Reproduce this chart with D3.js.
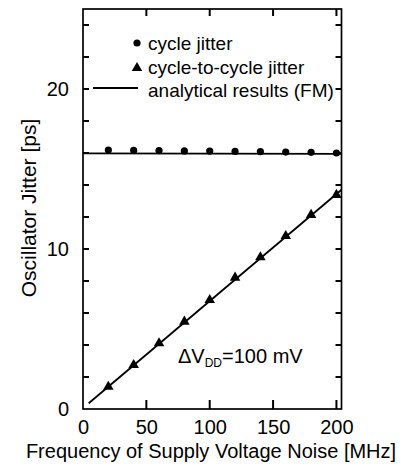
<!DOCTYPE html>
<html><head><meta charset="utf-8">
<script src="https://cdn.jsdelivr.net/npm/d3@7"></script>
<style>
html,body{margin:0;padding:0;background:#fff;}
text{font-family:"Liberation Sans",Arial,Helvetica,sans-serif;fill:#000;}
</style></head>
<body><svg id="c" width="403" height="468"></svg>
<script>
const freqs = [20, 40, 60, 80, 100, 120, 140, 160, 180, 200];
const cycleJitter = [16.18, 16.16, 16.15, 16.13, 16.12, 16.1, 16.08, 16.06, 16.04, 16.0];
const c2cJitter = [1.39, 2.75, 4.11, 5.46, 6.81, 8.21, 9.48, 10.81, 12.13, 13.38];
const fmFlatX = [0, 204];
const fmFlatY = [15.98, 15.94];
const fmLinX = [4.5, 204];
const fmLinY = [0.36, 13.7];
const xTicks = [0, 50, 100, 150, 200];
const yTicks = [0, 2, 4, 6, 8, 10, 12, 14, 16, 18, 20, 22, 24];
const yTickLabels = [0, 10, 20];
const legendLabels = ["cycle jitter", "cycle-to-cycle jitter", "analytical results (FM)"];

const svg = d3.select("#c");
const x = d3.scaleLinear().domain([0, 204]).range([83, 341.5]);
const y = d3.scaleLinear().domain([0, 25]).range([409, 9]);

// frame
svg.append("rect").attr("x", x(0)).attr("y", y(25))
  .attr("width", x(204) - x(0)).attr("height", y(0) - y(25))
  .attr("fill", "none").attr("stroke", "#000").attr("stroke-width", 1.7);

// tick labels via axes
const gB = svg.append("g").attr("transform", `translate(0,${y(0)})`)
  .call(d3.axisBottom(x).tickValues(xTicks).tickSize(0).tickPadding(11).tickFormat(d3.format("d")));
gB.select(".domain").remove();
gB.selectAll("text").attr("font-size", 20).attr("font-family", "Liberation Sans, Arial, sans-serif");

const gL = svg.append("g").attr("transform", `translate(${x(0)},0)`)
  .call(d3.axisLeft(y).tickValues(yTickLabels).tickSize(0).tickPadding(14).tickFormat(d3.format("d")));
gL.select(".domain").remove();
gL.selectAll("text").attr("font-size", 20).attr("font-family", "Liberation Sans, Arial, sans-serif");

// inward tick marks on all four sides
const xt = xTicks.filter(d => d > 0);
const yt = yTicks.filter(d => d > 0);
function ticks(cls, data, f) {
  svg.append("g").selectAll("line").data(data).join("line").attr("class", cls)
    .attr("stroke", "#000").attr("stroke-width", 2).each(function (d) {
      const [x1, y1, x2, y2] = f(d);
      d3.select(this).attr("x1", x1).attr("y1", y1).attr("x2", x2).attr("y2", y2);
    });
}
ticks("tb", xt, d => [x(d), y(0), x(d), y(0) - 9]);
ticks("tt", xt, d => [x(d), y(25), x(d), y(25) + 7]);
ticks("tl", yt, d => [x(0), y(d), x(0) + 6, y(d)]);
ticks("tr", yt, d => [x(204), y(d), x(204) - 6, y(d)]);

// analytic lines
const line = d3.line().x(d => x(d[0])).y(d => y(d[1]));
svg.append("path").datum(fmFlatX.map((v, i) => [v, fmFlatY[i]]))
  .attr("d", line).attr("fill", "none").attr("stroke", "#000").attr("stroke-width", 1.8);
svg.append("path").datum(fmLinX.map((v, i) => [v, fmLinY[i]]))
  .attr("d", line).attr("fill", "none").attr("stroke", "#000").attr("stroke-width", 1.8);

// cycle jitter dots
svg.append("g").selectAll("circle").data(freqs).join("circle")
  .attr("cx", d => x(d)).attr("cy", (d, i) => y(cycleJitter[i])).attr("r", 3.6).attr("fill", "#000");

// cycle-to-cycle triangles
const tri = d3.symbol().type(d3.symbolTriangle).size(48);
svg.append("g").selectAll("path").data(freqs).join("path")
  .attr("d", tri).attr("transform", (d, i) => `translate(${x(d)},${y(c2cJitter[i])})`).attr("fill", "#000");

// legend
const lg = svg.append("g");
lg.append("circle").attr("cx", 137).attr("cy", 43).attr("r", 3.6).attr("fill", "#000");
lg.append("path").attr("d", tri).attr("transform", "translate(137,68)").attr("fill", "#000");
lg.append("line").attr("x1", 93).attr("x2", 138).attr("y1", 88).attr("y2", 88).attr("stroke", "#000").attr("stroke-width", 1.8);
lg.selectAll("text").data(legendLabels).join("text")
  .attr("x", 148).attr("y", (d, i) => 50 + i * 23.5).attr("font-size", 19).text(d => d);

// annotation
const ann = svg.append("text").attr("x", 178).attr("y", 363).attr("font-size", 20);
ann.append("tspan").text("\u0394V");
ann.append("tspan").attr("font-size", 12).attr("dy", 4).text("DD");
ann.append("tspan").attr("dy", -4).text("=100 mV");

// axis titles
svg.append("text").attr("x", 211).attr("y", 458).attr("text-anchor", "middle").attr("font-size", 20)
  .text("Frequency of Supply Voltage Noise [MHz]");
svg.append("text").attr("transform", "translate(36,208) rotate(-90)").attr("text-anchor", "middle").attr("font-size", 21)
  .text("Oscillator Jitter [ps]");
</script></body></html>
